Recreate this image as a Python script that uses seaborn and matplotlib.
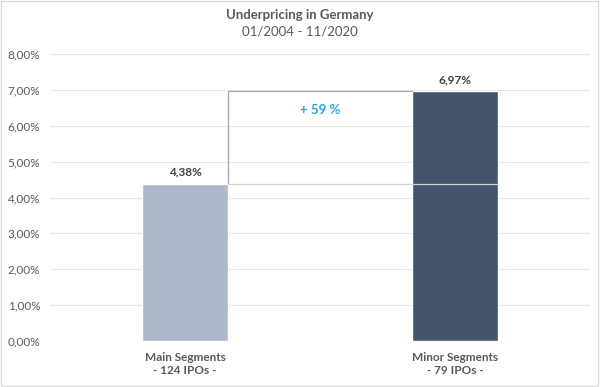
import pandas as pd
import seaborn as sns
import matplotlib.pyplot as plt
from matplotlib.ticker import FuncFormatter

segments = ["Main Segments\n- 124 IPOs -", "Minor Segments\n- 79 IPOs -"]
underpricing = [4.38, 6.97]
bar_labels = ["4,38%", "6,97%"]
colors = ["#adb9ca", "#44546a"]
diff_label = "+ 59 %"

sns.set_theme(style="white")
plt.rcParams["font.family"] = ["Lato", "DejaVu Sans"]

df = pd.DataFrame({"Segment": segments, "Underpricing": underpricing})

fig = plt.figure(figsize=(6, 3.87), dpi=100)
ax = fig.add_axes([50 / 600, 1 - 341 / 387, 540 / 600, 287 / 387])

sns.barplot(data=df, x="Segment", y="Underpricing", hue="Segment", palette=colors,
            width=0.315, saturation=1, legend=False, ax=ax, zorder=3)

ax.set_ylim(0, 8)
ax.set_xlim(-0.5, 1.5)
ax.set_yticks(range(0, 9))
ax.yaxis.set_major_formatter(FuncFormatter(lambda v, p: f"{v:.2f}%".replace(".", ",")))
ax.grid(axis="y", color="#e6e6e6", linewidth=0.8, zorder=0)
for s in ax.spines.values():
    s.set_visible(False)
ax.tick_params(axis="y", length=0, labelsize=8.5, labelcolor="#595959", pad=7)
ax.tick_params(axis="x", length=0, labelsize=8.5, labelcolor="#595959", pad=8)
for t in ax.get_xticklabels():
    t.set_fontweight("bold")
ax.set_xlabel("")
ax.set_ylabel("")

# connector lines
half = 0.315 / 2
x_left = 0 + half
ax.plot([x_left, x_left], [underpricing[0], underpricing[1]], color="#a6a6a6", lw=0.9, zorder=4)
ax.plot([x_left, 1 - half], [underpricing[1], underpricing[1]], color="#a6a6a6", lw=0.9, zorder=4)
ax.plot([x_left, 1 + half], [underpricing[0], underpricing[0]], color="#d0d4da", lw=0.9, zorder=4)

for i, (v, lab) in enumerate(zip(underpricing, bar_labels)):
    ax.text(i, v + 0.17, lab, ha="center", va="bottom", fontsize=8.5,
            fontweight="bold", color="#404040")

ax.text(0.5, 6.45, diff_label, ha="center", va="center", fontsize=9.5,
        fontweight="bold", color="#29a8d8")

fig.text(0.5, 1 - 15 / 387, "Underpricing in Germany", ha="center", va="center",
         fontsize=9.5, fontweight="bold", color="#595959")
fig.text(0.5, 1 - 32 / 387, "01/2004 - 11/2020", ha="center", va="center",
         fontsize=9.5, color="#595959")

fig.patches.append(plt.Rectangle((0.002, 0.003), 0.995, 0.994, transform=fig.transFigure,
                                 fill=False, edgecolor="#d9d9d9", lw=1))

fig.savefig("out.png", dpi=100)
